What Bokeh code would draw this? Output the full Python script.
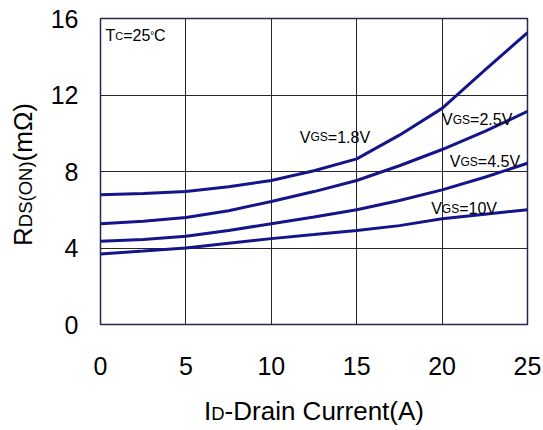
from bokeh.plotting import figure
from bokeh.models import FixedTicker, GridBox, Div
from bokeh.core.properties import value
from bokeh.embed import file_html
from bokeh.resources import INLINE

# ---- data ----
current = [0, 2.5, 5, 7.5, 10, 12.5, 15, 17.5, 20, 22.5, 25]
r_vgs_1_8 = [6.78, 6.85, 6.96, 7.20, 7.53, 8.04, 8.66, 9.90, 11.30, 13.30, 15.26]
r_vgs_2_5 = [5.27, 5.40, 5.60, 5.95, 6.43, 6.95, 7.53, 8.30, 9.15, 10.10, 11.14]
r_vgs_4_5 = [4.35, 4.45, 4.61, 4.92, 5.27, 5.62, 6.00, 6.48, 7.04, 7.70, 8.43]
r_vgs_10 = [3.69, 3.84, 4.00, 4.25, 4.49, 4.70, 4.92, 5.17, 5.53, 5.77, 6.00]
x_ticks = [0, 5, 10, 15, 20, 25]
y_ticks = [0, 4, 8, 12, 16]
# curve label anchors (data coords) and text parts (prefix, subscript, suffix)
curve_labels = [
    ("V", "GS", "=1.8V", 11.67, 9.79),
    ("V", "GS", "=2.5V", 20.0, 10.7),
    ("V", "GS", "=4.5V", 20.45, 8.52),
    ("V", "GS", "=10V", 19.36, 6.05),
]
x_title = ("I", "D", "-Drain Current(A)")
y_title = ("R", "DS(ON)", "(mΩ)")

FONT = "Liberation Sans"
LINE = "#15158a"
W, H = 543, 430

p = figure(width=W, height=H, x_range=(0, 25), y_range=(0, 16),
           output_backend="svg", toolbar_location=None,
           min_border_left=100, min_border_right=16,
           min_border_top=18, min_border_bottom=106)
p.background_fill_color = "white"
p.border_fill_color = "white"
p.outline_line_color = "#26264f"
p.outline_line_width = 1.5

for ax in (p.xaxis, p.yaxis):
    ax.axis_line_color = None
    ax.major_tick_line_color = None
    ax.minor_tick_line_color = None
    ax.major_tick_out = 0
    ax.major_tick_in = 0
    ax.major_label_text_font = FONT
    ax.major_label_text_font_size = "25px"
    ax.major_label_text_color = "black"
p.xaxis.ticker = FixedTicker(ticks=x_ticks)
p.yaxis.ticker = FixedTicker(ticks=y_ticks)
p.xaxis.major_label_standoff = 32
p.yaxis.major_label_standoff = 22

p.xgrid.ticker = FixedTicker(ticks=x_ticks)
p.ygrid.ticker = FixedTicker(ticks=y_ticks)
for g in (p.xgrid, p.ygrid):
    g.grid_line_color = "black"
    g.grid_line_width = 1
    g.grid_line_alpha = 0.85

for series in (r_vgs_1_8, r_vgs_2_5, r_vgs_4_5, r_vgs_10):
    p.line(current, series, line_color=LINE, line_width=3)


def txt(fig, x, y, t, fs, off=0.0):
    fig.text(x=[x], y=[y], text=[t], x_offset=off, text_font=value(FONT),
             text_font_size=f"{fs}px", text_baseline="alphabetic", text_align="left",
             text_color="black")


# curve labels with small subscript
BIG, SMALL = 16, 12
for pre, sub, suf, lx, ly in curve_labels:
    w_pre = 0.667 * BIG
    w_sub = 1.445 * SMALL
    txt(p, lx, ly, pre, BIG)
    txt(p, lx, ly, sub, SMALL, w_pre)
    txt(p, lx, ly, suf, BIG, w_pre + w_sub)

# Tc=25°C label
tc_parts = [("T", 16, 0.0), ("C", 11, 9.8), ("=25", 16, 17.7), ("°", 10, 44.8), ("C", 16, 48.6)]
for t, fs, off in tc_parts:
    txt(p, 0.29, 15.1, t, fs, off)

# ---- transparent HTML overlay for the axis titles ----
base = (f"position:absolute;font-family:'{FONT}';font-size:26px;line-height:26px;"
        "white-space:nowrap;color:#000;margin:0;padding:0;")
small = "font-size:18.5px;line-height:0;"
x_html = (f'<div style="{base}left:204px;top:398px;">{x_title[0]}'
          f'<span style="{small}">{x_title[1]}</span>{x_title[2]}</div>')
y_html = (f'<div style="{base}left:32px;top:224px;transform-origin:0 22px;'
          f'transform:rotate(-90deg);">{y_title[0]}'
          f'<span style="{small}">{y_title[1]}</span>{y_title[2]}</div>')
overlay = Div(text=f'<div style="position:relative;width:{W}px;height:{H}px;margin:0;padding:0;">'
                   f'{x_html}{y_html}</div>',
              width=W, height=H, margin=0)

layout = GridBox(children=[(p, 0, 0), (overlay, 0, 0)])
open("out.html", "w").write(file_html(layout, INLINE))
